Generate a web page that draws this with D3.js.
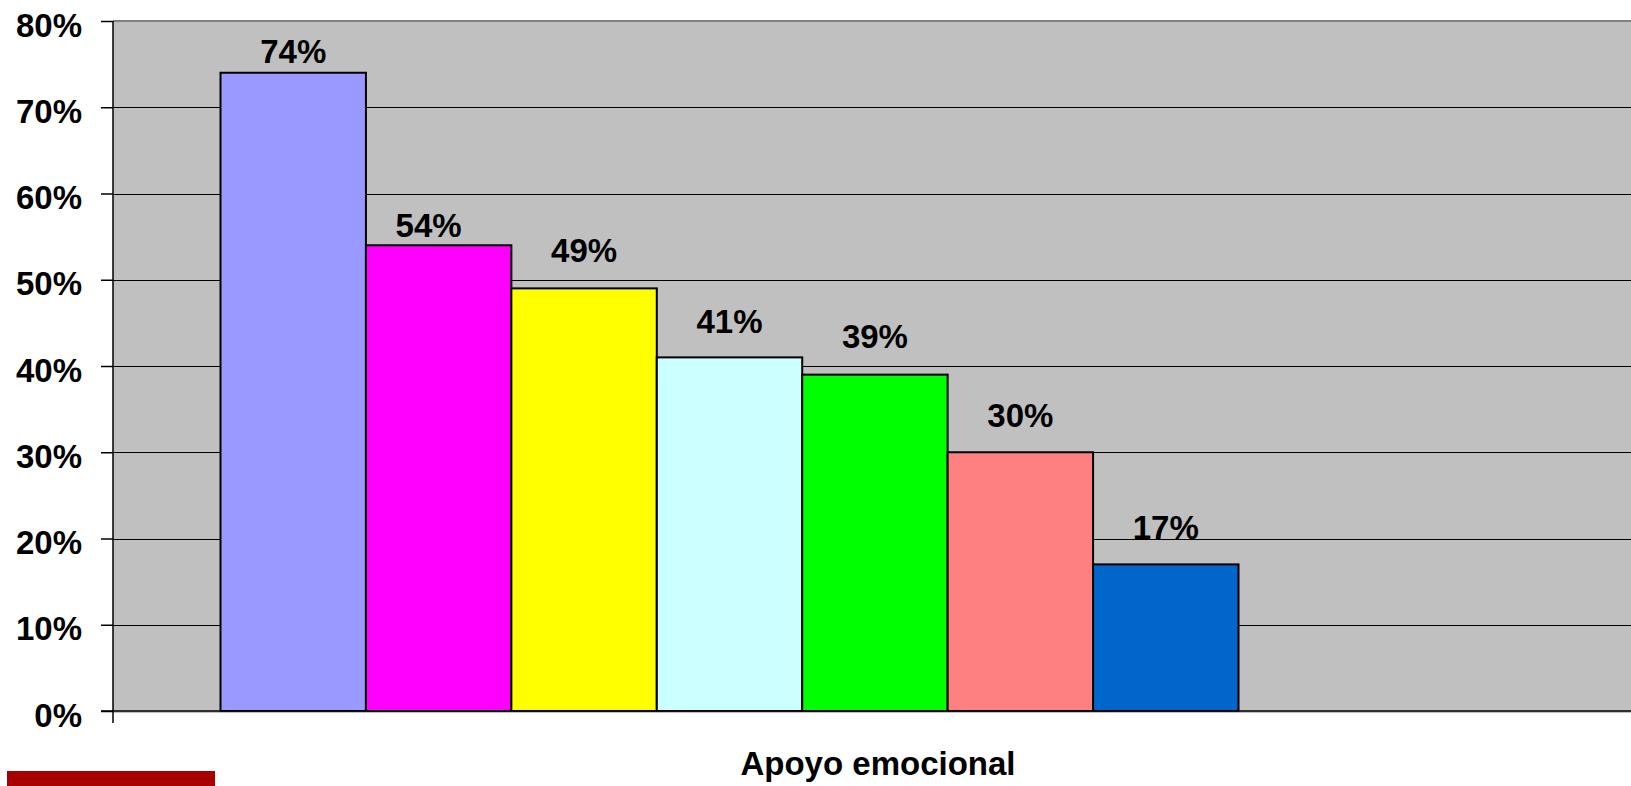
<!DOCTYPE html>
<html>
<head>
<meta charset="utf-8">
<script src="https://cdn.jsdelivr.net/npm/d3@7"></script>
<style>
  html, body { margin: 0; padding: 0; background: #fff; }
  svg { display: block; }
  text { font-family: "Liberation Sans", Arial, sans-serif; font-weight: bold; fill: #000; }
</style>
</head>
<body>
<svg id="chart" width="1631" height="786"></svg>
<script>
// ---- data ----
const category = "Apoyo emocional";
const seriesNames = ["Serie 1", "Serie 2", "Serie 3", "Serie 4", "Serie 5", "Serie 6", "Serie 7"];
const seriesValues = [74, 54, 49, 41, 39, 30, 17];
const yTicks = [0, 10, 20, 30, 40, 50, 60, 70, 80];

// ---- styling (not data) ----
const seriesColors = ["#9999FF", "#FF00FF", "#FFFF00", "#CCFFFF", "#00FF00", "#FF8080", "#0066CC"];
const labelGap = [10, 8, 26, 24, 27, 25, 25];
const labelShift = [0, -10, 0, 0, 0, 0, 0];

const svg = d3.select("#chart");
const plot = { left: 113, right: 1643, top: 21, bottom: 711 };

const y = d3.scaleLinear().domain([0, 80]).range([plot.bottom, plot.top]);
const xCat = d3.scaleBand().domain([category]).range([plot.left, plot.right]);
const xSeries = d3.scaleBand().domain(seriesNames).range([220.5, 1238.5]).padding(0);

// plot background
svg.append("rect")
  .attr("x", plot.left).attr("y", plot.top)
  .attr("width", plot.right - plot.left).attr("height", plot.bottom - plot.top)
  .attr("fill", "#C0C0C0");

// top border (gray)
svg.append("line")
  .attr("x1", plot.left).attr("x2", plot.right)
  .attr("y1", y(80)).attr("y2", y(80))
  .attr("stroke", "#808080").attr("stroke-width", 2);

// gridlines
svg.append("g").selectAll("line")
  .data(yTicks.filter(t => t > 0 && t < 80))
  .join("line")
  .attr("x1", plot.left).attr("x2", plot.right)
  .attr("y1", d => Math.round(y(d)) + 0.5).attr("y2", d => Math.round(y(d)) + 0.5)
  .attr("stroke", "#000").attr("stroke-width", 1.2);

// bars
svg.append("g").selectAll("rect")
  .data(seriesValues)
  .join("rect")
  .attr("x", (d, i) => xSeries(seriesNames[i]))
  .attr("y", d => y(d))
  .attr("width", xSeries.bandwidth())
  .attr("height", d => y(0) - y(d))
  .attr("fill", (d, i) => seriesColors[i])
  .attr("stroke", "#000").attr("stroke-width", 2);

// bottom axis line
svg.append("line")
  .attr("x1", plot.left).attr("x2", plot.right)
  .attr("y1", y(0) + 1).attr("y2", y(0) + 1)
  .attr("stroke", "#808080").attr("stroke-width", 1);
svg.append("line")
  .attr("x1", plot.left - 12).attr("x2", plot.right)
  .attr("y1", y(0)).attr("y2", y(0))
  .attr("stroke", "#000").attr("stroke-width", 1.5);

// y axis
const yAxis = d3.axisLeft(y).tickValues(yTicks).tickSize(12).tickPadding(19)
  .tickFormat(d => d + "%");
const gy = svg.append("g").attr("transform", `translate(${plot.left},0)`).call(yAxis);
gy.select(".domain").remove();
gy.selectAll(".tick line").attr("stroke", "#000").attr("stroke-width", 1.5);
gy.selectAll(".tick text")
  .attr("dy", null).attr("y", 15)
  .style("font-family", '"Liberation Sans", Arial, sans-serif')
  .style("font-weight", "bold").style("font-size", "33px").attr("fill", "#000");
svg.append("line")
  .attr("x1", plot.left).attr("x2", plot.left)
  .attr("y1", plot.top).attr("y2", plot.bottom + 12)
  .attr("stroke", "#000").attr("stroke-width", 1.5);

// value labels
svg.append("g").selectAll("text")
  .data(seriesValues)
  .join("text")
  .attr("x", (d, i) => xSeries(seriesNames[i]) + xSeries.bandwidth() / 2 + labelShift[i])
  .attr("y", (d, i) => y(d) - labelGap[i])
  .attr("text-anchor", "middle")
  .style("font-size", "33px")
  .text(d => d + "%");

// category label
svg.append("text")
  .attr("x", xCat(category) + xCat.bandwidth() / 2)
  .attr("y", 775)
  .attr("text-anchor", "middle")
  .style("font-size", "33px")
  .text(category);

// decorative red bar at bottom-left
svg.append("rect")
  .attr("x", 7).attr("y", 771).attr("width", 208).attr("height", 15)
  .attr("fill", "#A80000");
</script>
</body>
</html>
